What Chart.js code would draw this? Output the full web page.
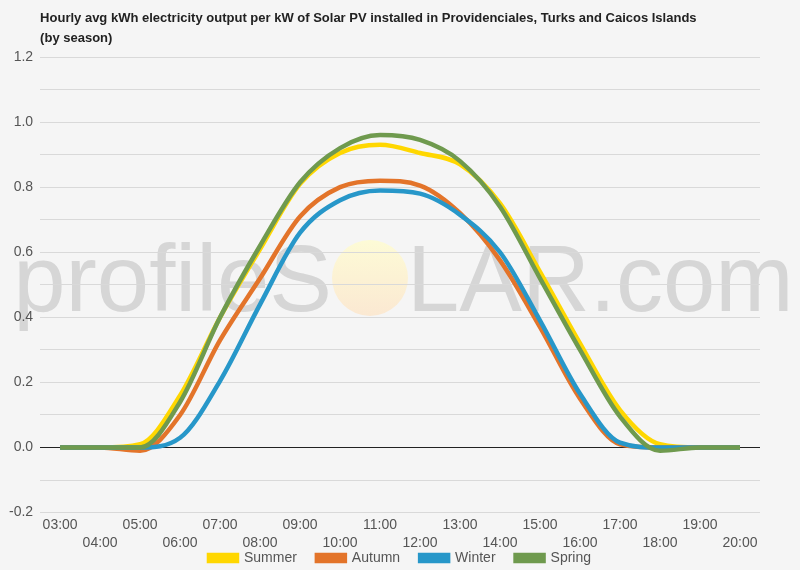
<!DOCTYPE html>
<html>
<head>
<meta charset="utf-8">
<script src="https://cdn.jsdelivr.net/npm/chart.js@4.4.1/dist/chart.umd.min.js"></script>
<style>
  html, body { margin: 0; padding: 0; background: #f5f5f5; }
  #wrap { width: 800px; height: 570px; }
</style>
</head>
<body>
<div id="wrap"><canvas id="myChart" width="800" height="570"></canvas></div>
<script>
const titleLines = [
  'Hourly avg kWh electricity output per kW of Solar PV installed in Providenciales, Turks and Caicos Islands',
  '(by season)'
];
const hours = ['03:00', '04:00', '05:00', '06:00', '07:00', '08:00', '09:00', '10:00', '11:00',
  '12:00', '13:00', '14:00', '15:00', '16:00', '17:00', '18:00', '19:00', '20:00'];
const summer = [0, 0, 0.01, 0.16, 0.40, 0.61, 0.81, 0.905, 0.93, 0.905, 0.87, 0.75, 0.54, 0.32, 0.115, 0.01, 0, 0];
const autumn = [0, 0, -0.01, 0.10, 0.33, 0.52, 0.71, 0.80, 0.82, 0.805, 0.72, 0.575, 0.37, 0.15, 0.01, 0, 0, 0];
const winter = [0, 0, 0, 0.03, 0.205, 0.44, 0.66, 0.76, 0.79, 0.78, 0.715, 0.60, 0.39, 0.165, 0.015, 0, 0, 0];
const spring = [0, 0, 0, 0.14, 0.40, 0.62, 0.815, 0.92, 0.96, 0.945, 0.88, 0.74, 0.52, 0.30, 0.095, -0.01, 0, 0];

const FONT = '"Liberation Sans", Arial, sans-serif';

// background + watermark, drawn under the grid
const backdrop = {
  id: 'backdrop',
  beforeDraw(chart) {
    const c = chart.ctx;
    c.save();
    c.fillStyle = '#f5f5f5';
    c.fillRect(0, 0, chart.width, chart.height);

    const g = c.createLinearGradient(0, 240, 0, 317);
    g.addColorStop(0, '#fdfbd6');
    g.addColorStop(1, '#fbe8d2');
    c.fillStyle = g;
    c.beginPath();
    c.arc(370, 278, 38, 0, Math.PI * 2);
    c.fill();

    c.fillStyle = '#d6d6d6';
    c.font = '94px ' + FONT;
    c.textBaseline = 'alphabetic';
    c.textAlign = 'right';
    c.fillText('profileS', 332, 311);
    c.textAlign = 'left';
    c.fillText('LAR.com', 407, 311);
    c.restore();
  }
};

// left-aligned title over the plot area
const titleText = {
  id: 'titleText',
  afterDraw(chart) {
    const c = chart.ctx;
    c.save();
    c.fillStyle = '#222';
    c.font = 'bold 13px ' + FONT;
    c.textBaseline = 'middle';
    c.textAlign = 'left';
    titleLines.forEach((t, i) => c.fillText(t, chart.chartArea.left, 18 + i * 20));
    c.restore();
  }
};

// legend sits tight under the staggered x labels and is centred on the whole canvas
const legendPlace = {
  id: 'legendPlace',
  beforeLayout(chart) {
    const lg = chart.legend;
    if (lg && !lg._tight) {
      const fit = lg.fit;
      lg.fit = function () { fit.call(this); this.height = 15; };
      lg._tight = true;
    }
  },
  afterLayout(chart) {
    const lg = chart.legend;
    lg.left = 0;
    lg.right = chart.width;
    lg.top = 531;
  }
};

const ctx = document.getElementById('myChart');

new Chart(ctx, {
  type: 'line',
  data: {
    labels: hours,
    datasets: [
      { label: 'Summer', data: summer, borderColor: '#ffd700', backgroundColor: '#ffd700', order: 3 },
      { label: 'Autumn', data: autumn, borderColor: '#e3742a', backgroundColor: '#e3742a', order: 2 },
      { label: 'Winter', data: winter, borderColor: '#2797c9', backgroundColor: '#2797c9', order: 1 },
      { label: 'Spring', data: spring, borderColor: '#6f9a4e', backgroundColor: '#6f9a4e', order: 0 }
    ]
  },
  options: {
    responsive: false,
    animation: false,
    layout: { padding: { top: 57, left: 2, right: 40, bottom: 0 } },
    elements: {
      line: { borderWidth: 4.5, cubicInterpolationMode: 'monotone', fill: false },
      point: { radius: 0, hoverRadius: 0 }
    },
    scales: {
      x: {
        offset: true,
        grid: { display: false, drawTicks: false },
        border: { display: false },
        ticks: {
          autoSkip: false,
          maxRotation: 0,
          padding: 3,
          color: '#555',
          font: { family: FONT, size: 14, lineHeight: 1.3 },
          callback: function (value, index) {
            const label = this.getLabelForValue(value);
            return index % 2 === 0 ? label : ['', label];
          }
        }
      },
      y: {
        min: -0.2,
        max: 1.2,
        border: { display: false },
        grid: {
          drawTicks: false,
          color: c => c.tick && Math.abs(c.tick.value) < 1e-9 ? '#222' : '#d9d9d9'
        },
        ticks: {
          stepSize: 0.1,
          maxTicksLimit: 20,
          autoSkip: false,
          padding: 7,
          color: '#555',
          font: { family: FONT, size: 14 },
          callback: v => {
            const n = Math.round(v * 10);
            if (n % 2 !== 0) return '';
            return (n === 0 ? 0 : n / 10).toFixed(1);
          }
        }
      }
    },
    plugins: {
      title: { display: false },
      tooltip: { enabled: false },
      legend: {
        position: 'bottom',
        labels: {
          boxWidth: 28,
          boxHeight: 6,
          padding: 20,
          color: '#555',
          font: { family: FONT, size: 14 },
          sort: (a, b) => a.datasetIndex - b.datasetIndex
        }
      }
    }
  },
  plugins: [backdrop, titleText, legendPlace]
});
</script>
</body>
</html>
